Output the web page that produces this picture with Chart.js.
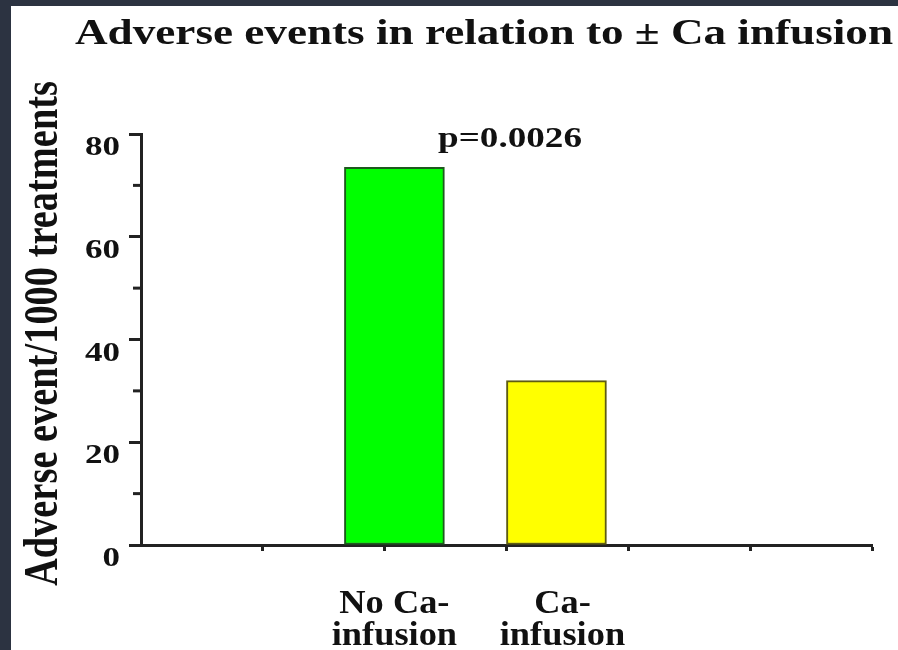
<!DOCTYPE html>
<html>
<head>
<meta charset="utf-8">
<script src="https://cdn.jsdelivr.net/npm/chart.js@4/dist/chart.umd.min.js"></script>
<style>
    html, body { margin: 0; padding: 0; background: #2c3341; }
    #moldura { position: absolute; left: 11px; top: 6px; width: 887px; height: 644px; background: #fff; }
</style>
</head>
<body>
<div id="moldura"><canvas id="grafico"></canvas></div>
<script>
// ==== Dados ====
const titulo = 'Adverse events in relation to \u00b1 Ca infusion';
const tituloY = 'Adverse event/1000 treatments';
const pValor = 'p=0.0026';
const categorias = [['No Ca-', 'infusion'], ['Ca-', 'infusion']];
const valores = [73.5, 32];
const posicoes = [2.08, 3.41]; // onde cada coluna fica no eixo x (0 a 6)
const ticksY = [0, 20, 40, 60, 80];
const ticksMenoresY = [10, 30, 50, 70];
const ticksX = [1, 2, 3, 4, 5, 6];

const FONTE = '"Liberation Serif", "Times New Roman", serif';

function texto(c, str, x, y, size, sx, align) {
    c.save();
    c.font = `bold ${size}px ${FONTE}`;
    c.textAlign = align;
    c.textBaseline = 'alphabetic';
    c.translate(x, y);
    c.scale(sx, 1);
    c.fillText(str, 0, 0);
    c.restore();
}

function escalaPara(c, str, size, largura) {
    c.font = `bold ${size}px ${FONTE}`;
    return largura / c.measureText(str).width;
}

const textos = {
    id: 'textos',
    afterDraw(chart) {
        const c = chart.ctx;
        const x = chart.scales.x;
        const y = chart.scales.y;
        c.save();
        c.fillStyle = '#111';
        c.strokeStyle = '#222';

        // titulo
        texto(c, titulo, 64, 38, 36, escalaPara(c, titulo, 36, 818), 'left');

        // p valor
        texto(c, pValor, 427, 141, 29, escalaPara(c, pValor, 29, 144), 'left');

        // ticks menores do eixo y
        c.lineWidth = 3;
        ticksMenoresY.forEach(v => {
            const py = y.getPixelForValue(v);
            c.beginPath();
            c.moveTo(y.right - 8, py);
            c.lineTo(y.right, py);
            c.stroke();
        });

        // rotulos do eixo y
        y.ticks.forEach(t => {
            const py = y.getPixelForValue(t.value);
            texto(c, String(t.value), 109, py + 21, 28, 1.25, 'right');
        });

        // rotulos das categorias
        categorias.forEach((linhas, i) => {
            const px = x.getPixelForValue(posicoes[i]) + i * 6;
            linhas.forEach((l, j) => {
                texto(c, l, px, 607 + j * 32, 34, 1.07, 'center');
            });
        });

        // titulo do eixo y
        c.save();
        c.font = `bold 38px ${FONTE}`;
        const comp = 505 / c.measureText(tituloY).width;
        c.translate(46, (y.top + y.bottom) / 2 - 6);
        c.rotate(-Math.PI / 2);
        c.scale(comp, 1.25);
        c.textAlign = 'center';
        c.fillText(tituloY, 0, 0);
        c.restore();

        c.restore();
    }
};

// ==== Grafico ====
const ctx = document.getElementById('grafico').getContext('2d');
const grafico = new Chart(ctx, {
    type: 'bar',
    data: {
        datasets: [{
            data: valores.map((v, i) => ({ x: posicoes[i], y: v })),
            backgroundColor: ['#00ff00', '#ffff00'],
            borderColor: ['#1d5a1d', '#5e5c12'],
            borderWidth: 2,
            borderSkipped: false,
            barThickness: 100,
        }]
    },
    options: {
        responsive: true,
        maintainAspectRatio: false,
        animation: false,
        layout: { padding: { top: 128, right: 26, left: 0, bottom: 0 } },
        plugins: {
            legend: { display: false },
            tooltip: { enabled: false },
            title: { display: false }
        },
        scales: {
            x: {
                type: 'linear',
                min: 0,
                max: 6,
                offset: false,
                afterBuildTicks: s => { s.ticks = ticksX.map(v => ({ value: v })); },
                ticks: { display: false },
                grid: { offset: false, drawOnChartArea: false, tickLength: 6, tickWidth: 3, tickColor: '#222' },
                border: { color: '#222', width: 3 },
                afterFit: s => { s.height = 105; }
            },
            y: {
                min: 0,
                max: 80,
                afterBuildTicks: s => { s.ticks = ticksY.map(v => ({ value: v })); },
                ticks: { display: false },
                grid: { drawOnChartArea: false, tickLength: 12, tickWidth: 3, tickColor: '#222' },
                border: { color: '#222', width: 3 },
                afterFit: s => { s.width = 130; }
            }
        }
    },
    plugins: [textos]
});
</script>
</body>
</html>
